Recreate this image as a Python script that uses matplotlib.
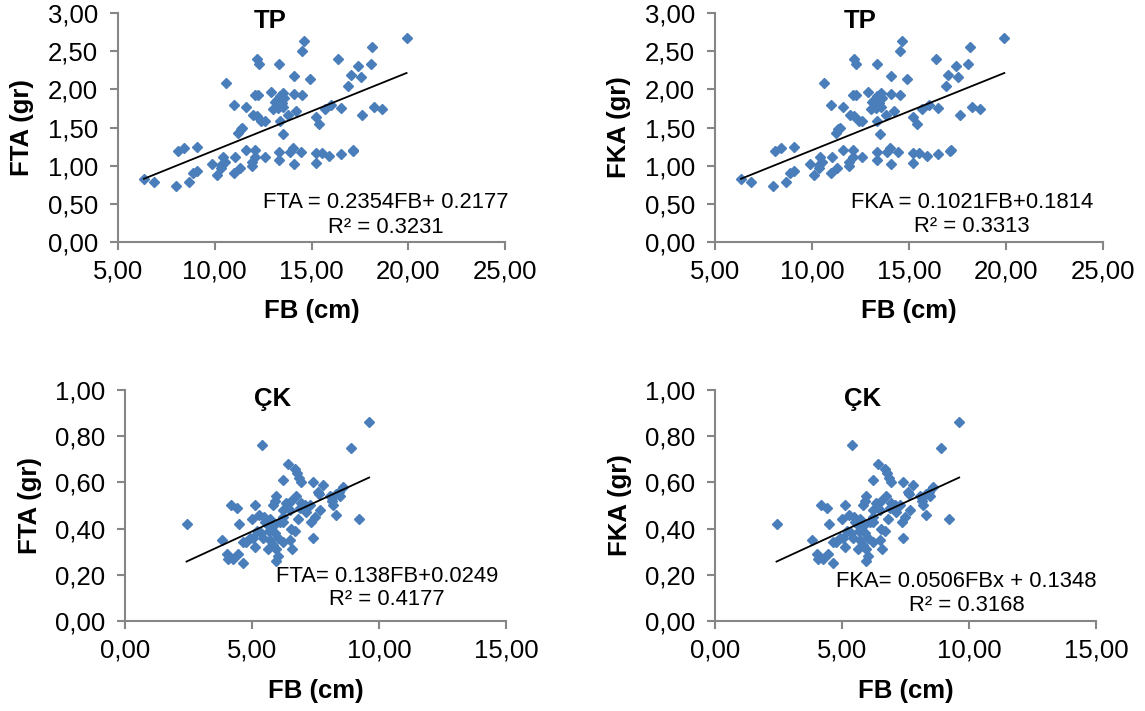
import numpy as np
import matplotlib
matplotlib.use("Agg")
import matplotlib.pyplot as plt
from matplotlib.ticker import FuncFormatter

plt.rcParams['font.family'] = ['Liberation Sans', 'DejaVu Sans']

# TP: fish length (cm) vs weight (gr), same points in both top panels
tp_fb = [6.34, 6.86, 7.97, 8.67, 8.10, 8.40, 9.09, 8.88, 9.09, 9.88, 10.09, 10.34, 10.43, 10.52,
         10.34, 10.98, 11.03, 11.29, 11.60, 11.90, 11.90, 12.10, 12.10, 12.59, 13.33, 13.33, 14.02,
         13.88, 14.09, 14.43, 15.21, 15.22, 15.52, 15.91, 16.50, 17.12, 17.16, 11.21, 11.33, 11.43,
         10.98, 11.59, 11.98, 12.16, 12.41, 12.59, 12.10, 12.24, 10.60, 12.16, 12.29, 13.33, 12.90,
         13.19, 13.36, 13.53, 13.45, 13.02, 13.28, 13.53, 13.79, 13.36, 13.50, 14.09, 14.09, 14.53,
         14.22, 14.53, 14.62, 14.91, 15.21, 15.40, 15.69, 16.03, 16.50, 16.38, 16.90, 17.02, 17.41,
         17.53, 18.05, 18.14, 17.62, 18.24, 18.66, 19.91, 13.60, 13.10]
tp_w = [0.83, 0.78, 0.73, 0.79, 1.19, 1.23, 1.25, 0.90, 0.93, 1.02, 0.88, 1.01, 1.12, 1.05,
        0.97, 0.91, 1.12, 0.97, 1.21, 1.00, 1.05, 1.20, 1.12, 1.11, 1.18, 1.07, 1.23,
        1.18, 1.02, 1.18, 1.17, 1.03, 1.16, 1.13, 1.15, 1.19, 1.21, 1.43, 1.48, 1.50,
        1.79, 1.77, 1.67, 1.65, 1.59, 1.58, 1.93, 1.92, 2.08, 2.40, 2.33, 2.33, 1.97,
        1.86, 1.91, 1.95, 1.82, 1.74, 1.75, 1.77, 1.67, 1.58, 1.42, 1.94, 2.17, 1.92,
        1.72, 2.50, 2.63, 2.13, 1.64, 1.55, 1.74, 1.80, 1.75, 2.40, 2.04, 2.19, 2.30,
        2.16, 2.33, 2.56, 1.66, 1.77, 1.74, 2.67, 1.89, 1.83]

# ÇK: same points in both bottom panels
ck_fb = [2.42, 9.61, 5.41, 8.91, 9.21, 6.42, 6.68, 6.75, 6.84, 6.91, 6.20, 7.40, 7.80, 7.60,
         7.64, 8.58, 8.43, 8.32, 8.13, 8.19, 8.32, 4.19, 4.39, 5.11, 4.50, 5.00, 5.28, 5.47,
         5.70, 5.90, 5.96, 5.83, 6.22, 6.35, 6.55, 6.72, 6.94, 7.14, 7.34, 7.47, 7.69, 3.80,
         4.00, 4.06, 4.26, 4.46, 4.63, 4.63, 4.92, 5.11, 4.78, 5.18, 5.37, 5.57, 5.67, 5.83,
         5.90, 6.03, 5.70, 5.83, 5.64, 5.96, 6.03, 5.94, 6.22, 6.49, 6.59, 6.68, 6.55, 6.81,
         7.41, 6.22, 5.05, 5.50, 7.27, 7.08, 6.22, 5.44, 6.10, 6.49, 6.88, 8.06, 8.45]
ck_w = [0.42, 0.86, 0.76, 0.75, 0.44, 0.68, 0.66, 0.64, 0.62, 0.60, 0.61, 0.60, 0.59, 0.56,
        0.55, 0.58, 0.56, 0.55, 0.52, 0.50, 0.46, 0.50, 0.49, 0.50, 0.42, 0.44, 0.46, 0.45,
        0.44, 0.52, 0.54, 0.50, 0.48, 0.51, 0.52, 0.54, 0.51, 0.47, 0.43, 0.45, 0.48, 0.35,
        0.29, 0.27, 0.27, 0.29, 0.25, 0.34, 0.36, 0.32, 0.34, 0.39, 0.38, 0.42, 0.39, 0.41,
        0.38, 0.36, 0.35, 0.33, 0.31, 0.31, 0.28, 0.26, 0.34, 0.35, 0.31, 0.39, 0.40, 0.44,
        0.36, 0.43, 0.36, 0.43, 0.50, 0.50, 0.45, 0.36, 0.43, 0.48, 0.49, 0.54, 0.54]

# trend lines as drawn (slope, intercept)
tp_fit = (0.1021, 0.1814)
ck_fit = (0.0506, 0.1348)

panels = [
    dict(rect=[0.1031, 0.6596, 0.3380, 0.3221], x=tp_fb, y=tp_w, fit=tp_fit, ylabel="FTA (gr)",
         title="TP", tx=12.85, ty=2.90, eq=["FTA = 0.2354FB+ 0.2177", "R² = 0.3231"], ex=18.84, ey=(0.52, 0.19),
         xlim=(5, 25), xticks=[5, 10, 15, 20, 25], ylim=(0, 3), yticks=np.arange(0, 3.01, 0.5)),
    dict(rect=[0.6245, 0.6596, 0.3389, 0.3221], x=tp_fb, y=tp_w, fit=tp_fit, ylabel="FKA (gr)",
         title="TP", tx=12.5, ty=2.90, eq=["FKA = 0.1021FB+0.1814", "R² = 0.3313"], ex=18.25, ey=(0.52, 0.20),
         xlim=(5, 25), xticks=[5, 10, 15, 20, 25], ylim=(0, 3), yticks=np.arange(0, 3.01, 0.5)),
    dict(rect=[0.1092, 0.1266, 0.3328, 0.3249], x=ck_fb, y=ck_w, fit=ck_fit, ylabel="FTA (gr)",
         title="ÇK", tx=5.82, ty=0.962, eq=["FTA= 0.138FB+0.0249", "R² = 0.4177"], ex=10.3, ey=(0.191, 0.091),
         xlim=(0, 15), xticks=[0, 5, 10, 15], ylim=(0, 1), yticks=np.arange(0, 1.01, 0.2)),
    dict(rect=[0.6245, 0.1266, 0.3328, 0.3249], x=ck_fb, y=ck_w, fit=ck_fit, ylabel="FKA (gr)",
         title="ÇK", tx=5.82, ty=0.962, eq=["FKA= 0.0506FBx + 0.1348", "R² = 0.3168"], ex=9.91, ey=(0.169, 0.069),
         xlim=(0, 15), xticks=[0, 5, 10, 15], ylim=(0, 1), yticks=np.arange(0, 1.01, 0.2)),
]

comma = FuncFormatter(lambda v, p: f"{v:.2f}".replace(".", ","))
grey = "#868686"

fig = plt.figure(figsize=(11.45, 7.11), dpi=100)

for p in panels:
    ax = fig.add_axes(p["rect"])
    ax.plot(p["x"], p["y"], ls="none", marker="D", ms=5.0, color="#4A7EBB", mec="#4A7EBB")
    xs = np.array([min(p["x"]), max(p["x"])])
    m, b = p["fit"]
    ax.plot(xs, m * xs + b, color="black", lw=1.3)

    ax.set_xlim(*p["xlim"])
    ax.set_ylim(*p["ylim"])
    ax.set_xticks(p["xticks"])
    ax.set_yticks(p["yticks"])
    ax.xaxis.set_major_formatter(comma)
    ax.yaxis.set_major_formatter(comma)
    for s in ["top", "right"]:
        ax.spines[s].set_visible(False)
    for s in ["left", "bottom"]:
        ax.spines[s].set_color(grey)
        ax.spines[s].set_linewidth(1.5)
    ax.tick_params(direction="out", length=5.5, width=1.5, color=grey, labelsize=18.5, labelcolor="black")
    ax.tick_params(axis="x", pad=7)
    ax.tick_params(axis="y", pad=9)

    ax.set_xlabel("FB (cm)", fontsize=18.5, fontweight="bold")
    ax.xaxis.set_label_coords(0.5, -0.25)
    ax.set_ylabel(p["ylabel"], fontsize=18.5, fontweight="bold")
    ax.yaxis.set_label_coords(-0.217, 0.5)

    ax.text(p["tx"], p["ty"], p["title"], fontsize=18.5, fontweight="bold", ha="center", va="center")
    ax.text(p["ex"], p["ey"][0], p["eq"][0], fontsize=15.8, ha="center", va="center")
    ax.text(p["ex"], p["ey"][1], p["eq"][1], fontsize=15.8, ha="center", va="center")

fig.savefig("out.png", dpi=100)
